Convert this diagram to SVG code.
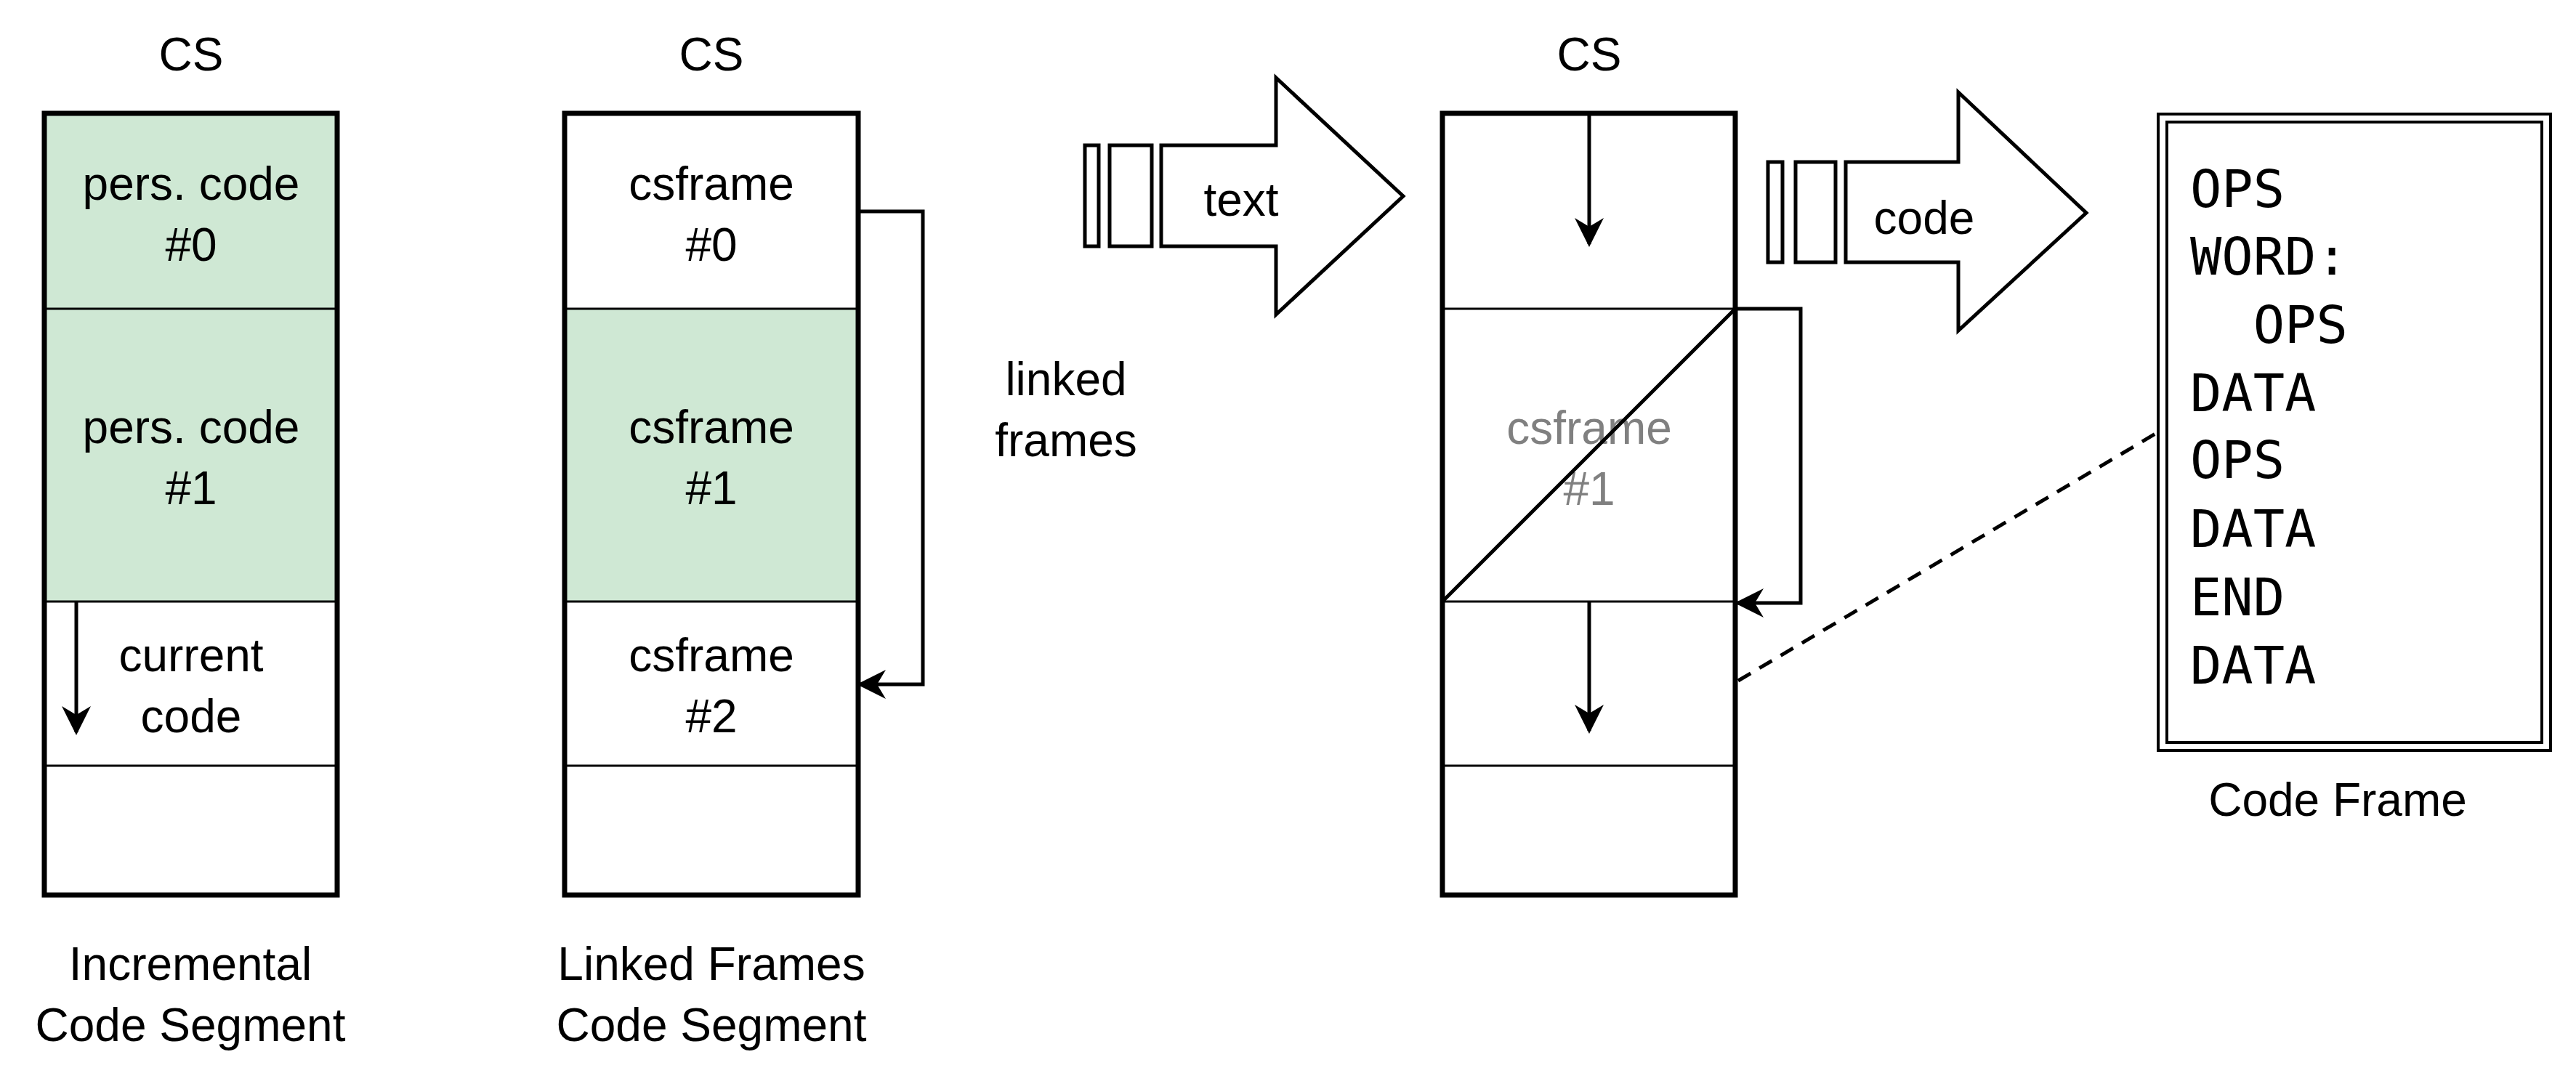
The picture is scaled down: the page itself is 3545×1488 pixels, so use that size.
<svg xmlns="http://www.w3.org/2000/svg" width="3545" height="1488" viewBox="0 0 3545 1488">
<style>
text{font-family:"Liberation Sans",Arial,sans-serif;font-size:64px;fill:#000;text-anchor:middle;dominant-baseline:central}
.mono{font-family:"DejaVu Sans Mono","Liberation Mono",monospace;font-size:72px;text-anchor:start;dominant-baseline:alphabetic}
.box{fill:none;stroke:#000;stroke-width:7}
.div{stroke:#000;stroke-width:3;fill:none}
.ln{stroke:#000;stroke-width:5;fill:none}
.green{fill:#cfe8d4}
</style>
<defs>
<marker id="ah" viewBox="0 0 20 20" refX="18" refY="10" markerWidth="20" markerHeight="20" markerUnits="userSpaceOnUse" orient="auto"><path d="M0,0 L20,10 L0,20 L6,10 Z" fill="#000"/></marker>
<marker id="ah2" viewBox="0 0 10 10" refX="9" refY="5" markerWidth="40" markerHeight="40" markerUnits="userSpaceOnUse" orient="auto"><path d="M0,0 L10,5 L0,10 L3,5 Z" fill="#000"/></marker>
</defs>
<rect width="3545" height="1488" fill="#fff"/>
<g id="col1">
<text x="263" y="75">CS</text>
<rect class="green" x="61" y="156" width="403" height="672"/>
<line class="div" x1="61" y1="425" x2="464" y2="425"/>
<line class="div" x1="61" y1="828" x2="464" y2="828"/>
<line class="div" x1="61" y1="1054" x2="464" y2="1054"/>
<rect class="box" x="61" y="156" width="403" height="1076"/>
<text x="263" y="253">pers. code</text><text x="263" y="337">#0</text>
<text x="263" y="588">pers. code</text><text x="263" y="672">#1</text>
<text x="263" y="902">current</text><text x="263" y="986">code</text>
<text x="262" y="1327">Incremental</text><text x="262" y="1411">Code Segment</text>
</g>
<g id="col2">
<text x="979" y="75">CS</text>
<rect class="green" x="777" y="425" width="404" height="403"/>
<line class="div" x1="777" y1="425" x2="1181" y2="425"/>
<line class="div" x1="777" y1="828" x2="1181" y2="828"/>
<line class="div" x1="777" y1="1054" x2="1181" y2="1054"/>
<rect class="box" x="777" y="156" width="404" height="1076"/>
<text x="979" y="253">csframe</text><text x="979" y="337">#0</text>
<text x="979" y="588">csframe</text><text x="979" y="672">#1</text>
<text x="979" y="902">csframe</text><text x="979" y="986">#2</text>
<text x="979" y="1327">Linked Frames</text><text x="979" y="1411">Code Segment</text>
</g>
<g id="linked-label"><text x="1467" y="522">linked</text><text x="1467" y="606">frames</text></g>
<g id="col3">
<text x="2187" y="75">CS</text>
<line class="div" x1="1985" y1="425" x2="2388" y2="425"/>
<line class="div" x1="1985" y1="828" x2="2388" y2="828"/>
<line class="div" x1="1985" y1="1054" x2="2388" y2="1054"/>
<rect class="box" x="1985" y="156" width="403" height="1076"/>
<text x="2187" y="589" style="fill:#808080">csframe</text><text x="2187" y="673" style="fill:#808080">#1</text>
<line class="ln" x1="1985" y1="828" x2="2388" y2="425"/>
</g>
<g id="text-arrow">
<rect x="1493" y="200" width="19" height="139" class="ln"/>
<rect x="1527" y="200" width="58" height="139" class="ln"/>
<path class="ln" d="M1598,200 L1756,200 L1756,107 L1931,270 L1756,433 L1756,339 L1598,339 Z"/>
<text x="1708" y="275">text</text>
</g>
<g id="code-arrow">
<rect x="2433" y="223" width="20" height="138" class="ln"/>
<rect x="2471" y="223" width="55" height="138" class="ln"/>
<path class="ln" d="M2540,223 L2695,223 L2695,127 L2871,293 L2695,455 L2695,361 L2540,361 Z"/>
<text x="2648" y="300">code</text>
</g>
<g id="code-frame">
<rect x="2970" y="157" width="540" height="876" fill="none" stroke="#000" stroke-width="4"/>
<rect x="2982" y="168" width="516" height="854" fill="none" stroke="#000" stroke-width="4"/>
<text class="mono" x="3014" y="285">OPS</text>
<text class="mono" x="3014" y="378">WORD:</text>
<text class="mono" x="3014" y="472" xml:space="preserve">  OPS</text>
<text class="mono" x="3014" y="566">DATA</text>
<text class="mono" x="3014" y="658">OPS</text>
<text class="mono" x="3014" y="753">DATA</text>
<text class="mono" x="3014" y="847">END</text>
<text class="mono" x="3014" y="941">DATA</text>
<text x="3217" y="1101">Code Frame</text>
</g>
<g id="connectors">
<line class="ln" x1="105" y1="828" x2="105" y2="1008" marker-end="url(#ah2)"/>
<polyline class="ln" points="1181,291 1270,291 1270,942 1183,942" marker-end="url(#ah2)"/>
<line class="ln" x1="2187" y1="156" x2="2187" y2="336" marker-end="url(#ah2)"/>
<line class="ln" x1="2187" y1="828" x2="2187" y2="1006" marker-end="url(#ah2)"/>
<polyline class="ln" points="2388,425 2478,425 2478,830 2391,830" marker-end="url(#ah2)"/>
<line class="ln" x1="2392" y1="937" x2="2968" y2="596" stroke-dasharray="20 14"/>
</g>
</svg>
